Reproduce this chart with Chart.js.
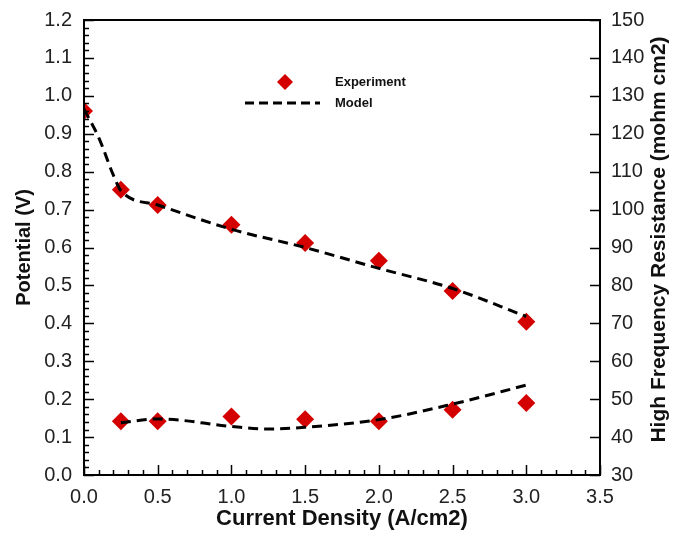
<!DOCTYPE html>
<html>
<head>
<meta charset="utf-8">
<script src="https://cdn.jsdelivr.net/npm/chart.js@4"></script>
<style>
  html, body { margin: 0; padding: 0; background: #fff; }
  #wrap { width: 677px; height: 533px; }
</style>
</head>
<body>
<div id="wrap"><canvas id="fuelCellChart"></canvas></div>
<script>
// Datos
const expCurrent = [0, 0.25, 0.5, 1.0, 1.5, 2.0, 2.5, 3.0];
const expPotential = [0.96, 0.752, 0.712, 0.66, 0.612, 0.565, 0.485, 0.404];
const expHfrCurrent = [0.25, 0.5, 1.0, 1.5, 2.0, 2.5, 3.0];
const expHfr = [44.2, 44.2, 45.4, 44.7, 44.2, 47.2, 49.0];

const modelCurrent = [0, 0.1, 0.2, 0.25, 0.5, 1.0, 1.5, 2.0, 2.5, 3.0];
const modelPotential = [0.965, 0.89, 0.79, 0.75, 0.712, 0.648, 0.600, 0.545, 0.492, 0.418];
const modelHfrCurrent = [0.25, 0.5, 1.0, 1.25, 1.5, 2.0, 2.5, 3.0];
const modelHfr = [43.8, 44.8, 42.8, 42.1, 42.6, 44.6, 48.7, 53.7];

const toPoints = (xs, ys) => xs.map((x, i) => ({ x: x, y: ys[i] }));

const RED = '#d40000';
const FONT = '"Liberation Sans", Arial, sans-serif';

// Ticks hacia adentro y leyenda dibujadas a mano
const axisDecor = {
  id: 'axisDecor',
  afterDraw(chart) {
    const ctx = chart.ctx;
    const a = chart.chartArea;
    const x = chart.scales.x, y = chart.scales.y, y2 = chart.scales.y2;
    ctx.save();
    ctx.strokeStyle = '#000';
    ctx.lineWidth = 2;
    ctx.strokeRect(a.left, a.top, a.right - a.left, a.bottom - a.top);
    ctx.lineWidth = 1.5;
    ctx.beginPath();
    for (let i = 0; i <= 60; i++) {
      const v = i * 0.02;
      const py = Math.round(y.getPixelForValue(v)) + 0.5;
      const len = (i % 5 === 0) ? 10 : 5;
      ctx.moveTo(a.left, py); ctx.lineTo(a.left + len, py);
    }
    for (let i = 0; i <= 35; i++) {
      const v = i * 0.1;
      const px = Math.round(x.getPixelForValue(v)) + 0.5;
      const len = (i % 5 === 0) ? 10 : 5;
      ctx.moveTo(px, a.bottom); ctx.lineTo(px, a.bottom - len);
    }
    for (let v = 30; v <= 150; v += 10) {
      const py = Math.round(y2.getPixelForValue(v)) + 0.5;
      ctx.moveTo(a.right, py); ctx.lineTo(a.right - 10, py);
    }
    ctx.stroke();

    // titulo eje derecho (de abajo hacia arriba)
    ctx.fillStyle = '#111';
    ctx.font = 'bold 21px ' + FONT;
    ctx.textAlign = 'center';
    ctx.textBaseline = 'middle';
    ctx.translate(659, (a.top + a.bottom) / 2 - 8);
    ctx.rotate(-Math.PI / 2);
    ctx.fillText('High Frequency Resistance (mohm cm2)', 0, 0);
    ctx.restore();

    // leyenda
    ctx.save();
    ctx.fillStyle = RED;
    ctx.beginPath();
    ctx.moveTo(285, 74); ctx.lineTo(293, 82); ctx.lineTo(285, 90); ctx.lineTo(277, 82);
    ctx.closePath(); ctx.fill();
    ctx.strokeStyle = '#000';
    ctx.lineWidth = 3;
    ctx.setLineDash([9, 5]);
    ctx.beginPath(); ctx.moveTo(245, 103); ctx.lineTo(320, 103); ctx.stroke();
    ctx.fillStyle = '#111';
    ctx.font = 'bold 13px ' + FONT;
    ctx.textAlign = 'left';
    ctx.textBaseline = 'middle';
    ctx.fillText('Experiment', 335, 82);
    ctx.fillText('Model', 335, 103);
    ctx.restore();
  }
};

const ctx = document.getElementById('fuelCellChart').getContext('2d');
window.fuelCellChart = new Chart(ctx, {
  type: 'scatter',
  data: {
    datasets: [
      {
        label: 'Model',
        type: 'line',
        data: toPoints(modelCurrent, modelPotential),
        yAxisID: 'y',
        borderColor: '#000',
        borderWidth: 3,
        borderDash: [10, 6],
        pointRadius: 0,
        cubicInterpolationMode: 'monotone',
        fill: false,
        order: 0
      },
      {
        label: 'Model HFR',
        type: 'line',
        data: toPoints(modelHfrCurrent, modelHfr),
        yAxisID: 'y2',
        borderColor: '#000',
        borderWidth: 3,
        borderDash: [10, 6],
        pointRadius: 0,
        cubicInterpolationMode: 'monotone',
        fill: false,
        order: 0
      },
      {
        label: 'Experiment',
        data: toPoints(expCurrent, expPotential),
        yAxisID: 'y',
        pointStyle: 'rectRot',
        pointRadius: 9,
        backgroundColor: RED,
        borderColor: RED,
        borderWidth: 0,
        order: 1
      },
      {
        label: 'Experiment HFR',
        data: toPoints(expHfrCurrent, expHfr),
        yAxisID: 'y2',
        pointStyle: 'rectRot',
        pointRadius: 9,
        backgroundColor: RED,
        borderColor: RED,
        borderWidth: 0,
        order: 1
      }
    ]
  },
  options: {
    responsive: true,
    maintainAspectRatio: false,
    animation: false,
    layout: { padding: { top: 20, left: 8, right: 0, bottom: 0 } },
    plugins: { legend: { display: false }, tooltip: { enabled: false } },
    scales: {
      x: {
        type: 'linear', min: 0, max: 3.5,
        grid: { display: false },
        border: { display: false },
        ticks: { stepSize: 0.5, color: '#222', padding: 2,
                 font: { family: FONT, size: 20 }, callback: v => v.toFixed(1) },
        title: { display: true, text: 'Current Density (A/cm2)', color: '#111',
                 font: { family: FONT, size: 22, weight: 'bold' }, padding: { top: 0, bottom: 1 } },
        afterFit(s) { s.height = 58; }
      },
      y: {
        type: 'linear', position: 'left', min: 0, max: 1.2,
        grid: { display: false },
        border: { display: false },
        ticks: { stepSize: 0.1, color: '#222', padding: 4,
                 font: { family: FONT, size: 20 }, callback: v => v.toFixed(1) },
        title: { display: true, text: 'Potential (V)', color: '#111',
                 font: { family: FONT, size: 20, weight: 'bold' }, padding: { bottom: 2 } },
        afterFit(s) { s.width = 76; }
      },
      y2: {
        type: 'linear', position: 'right', min: 30, max: 150,
        grid: { display: false },
        border: { display: false },
        ticks: { stepSize: 10, color: '#222', padding: 3,
                 font: { family: FONT, size: 20 } },
        afterFit(s) { s.width = 77; }
      }
    }
  },
  plugins: [axisDecor]
});
</script>
</body>
</html>
